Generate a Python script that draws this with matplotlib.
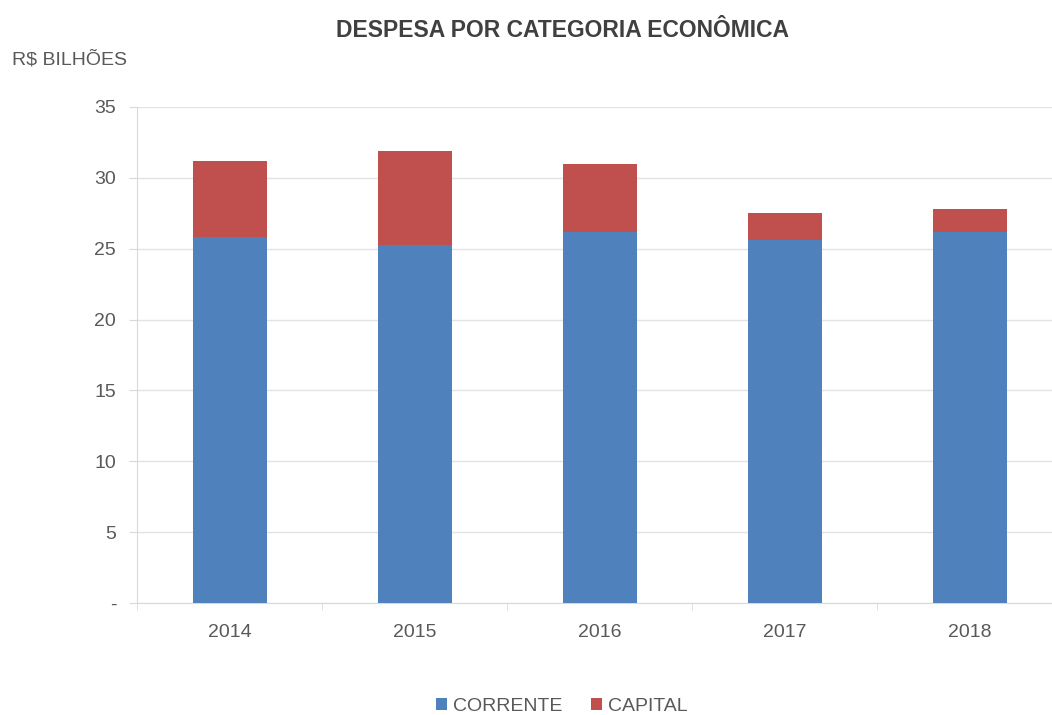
import matplotlib.pyplot as plt

plt.rcParams['font.family'] = ['Liberation Sans', 'DejaVu Sans']

years = ['2014', '2015', '2016', '2017', '2018']
corrente = [25.83, 25.25, 26.14, 25.60, 26.19]
capital = [5.36, 6.65, 4.80, 1.88, 1.60]
y_ticks = [0, 5, 10, 15, 20, 25, 30, 35]
y_labels = ['-', '5', '10', '15', '20', '25', '30', '35']

gray = '#595959'

fig = plt.figure(figsize=(10.52, 7.15), dpi=100)
ax = fig.add_axes([137 / 1052, 1 - 603.3 / 715, 925 / 1052, (603.3 - 106.7) / 715])

x = range(len(years))
ax.bar(x, corrente, width=0.4, color='#4F81BD', label='CORRENTE', zorder=3)
ax.bar(x, capital, width=0.4, bottom=corrente, color='#C0504D', label='CAPITAL', zorder=3)

ax.set_xlim(-0.5, len(years) - 0.5)
ax.set_ylim(0, 35)
ax.set_yticks(y_ticks)
ax.set_yticklabels(y_labels)
ax.set_xticks(list(x))
ax.set_xticklabels(years)
ax.set_xticks([i - 0.5 for i in range(len(years) + 1)], minor=True)

ax.grid(axis='y', color='#e3e3e3', linewidth=1, zorder=0)
for side in ['top', 'right']:
    ax.spines[side].set_visible(False)
for side in ['left', 'bottom']:
    ax.spines[side].set_color('#d9d9d9')

ax.tick_params(axis='y', colors='#d9d9d9', labelcolor=gray, labelsize=14, length=6, pad=9)
ax.tick_params(axis='x', which='major', length=0, labelcolor=gray, labelsize=14, pad=15)
ax.tick_params(axis='x', which='minor', colors='#d9d9d9', length=5)

fig.text(0.535, 0.958, 'DESPESA POR CATEGORIA ECONÔMICA', ha='center', va='center',
         fontsize=16.5, fontweight='bold', color='#404040')
fig.text(0.011, 0.917, 'R$ BILHÕES', ha='left', va='center', fontsize=14, color=gray)

leg = fig.legend(loc='center', bbox_to_anchor=(0.534, 0.012), ncol=2, frameon=False,
                 fontsize=14, handlelength=0.55, handleheight=0.55, handletextpad=0.3,
                 columnspacing=1.5)
for t in leg.get_texts():
    t.set_color(gray)

fig.savefig('out.png', dpi=100)
